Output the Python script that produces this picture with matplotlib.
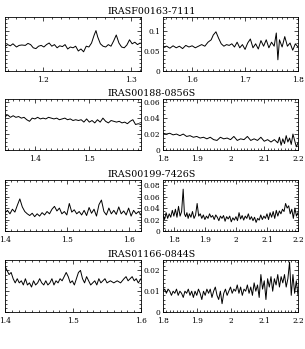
import matplotlib
matplotlib.use("Agg")
import matplotlib.pyplot as plt
from matplotlib.ticker import MultipleLocator, FuncFormatter

# ---- data ----
titles = ["IRASF00163-7111", "IRAS00188-0856S", "IRAS00199-7426S", "IRAS01166-0844S"]

x1l = [1.157, 1.160, 1.163, 1.166, 1.170, 1.173, 1.176, 1.180, 1.183, 1.186, 1.189, 1.192, 1.195,
       1.198, 1.201, 1.204, 1.207, 1.210, 1.213, 1.216, 1.219, 1.222, 1.225, 1.228, 1.231, 1.234,
       1.237, 1.240, 1.243, 1.246, 1.249, 1.252, 1.255, 1.258, 1.260, 1.262, 1.265, 1.268, 1.271,
       1.274, 1.277, 1.280, 1.283, 1.286, 1.289, 1.292, 1.295, 1.298, 1.301, 1.304, 1.307, 1.310]
y1l = [0.062, 0.066, 0.063, 0.068, 0.060, 0.064, 0.065, 0.064, 0.069, 0.066, 0.058, 0.056, 0.062,
       0.064, 0.060, 0.066, 0.070, 0.062, 0.066, 0.058, 0.063, 0.061, 0.066, 0.055, 0.060, 0.058,
       0.062, 0.050, 0.055, 0.048, 0.062, 0.060, 0.070, 0.090, 0.101, 0.085, 0.068, 0.062, 0.060,
       0.066, 0.062, 0.075, 0.090, 0.070, 0.060, 0.058, 0.065, 0.078, 0.068, 0.072, 0.066, 0.070]

x1r = [1.545, 1.552, 1.558, 1.564, 1.570, 1.576, 1.582, 1.588, 1.594, 1.600, 1.606, 1.612, 1.618,
       1.624, 1.630, 1.636, 1.640, 1.645, 1.650, 1.655, 1.660, 1.665, 1.670, 1.675, 1.680, 1.685,
       1.690, 1.695, 1.700, 1.705, 1.710, 1.715, 1.720, 1.725, 1.730, 1.735, 1.740, 1.745, 1.750,
       1.755, 1.759, 1.762, 1.765, 1.770, 1.775, 1.780, 1.785, 1.790, 1.795, 1.800]
y1r = [0.060, 0.062, 0.057, 0.063, 0.058, 0.062, 0.056, 0.064, 0.060, 0.063, 0.058, 0.062, 0.066,
       0.062, 0.072, 0.078, 0.090, 0.098, 0.082, 0.068, 0.062, 0.066, 0.064, 0.068, 0.060, 0.072,
       0.058, 0.066, 0.054, 0.070, 0.080, 0.058, 0.068, 0.055, 0.076, 0.062, 0.078, 0.058, 0.072,
       0.062, 0.095, 0.028, 0.078, 0.060, 0.086, 0.062, 0.070, 0.052, 0.068, 0.060]

x2l = [1.345, 1.350, 1.355, 1.360, 1.365, 1.370, 1.375, 1.380, 1.385, 1.390, 1.395, 1.400, 1.405,
       1.410, 1.415, 1.420, 1.425, 1.430, 1.435, 1.440, 1.445, 1.450, 1.455, 1.460, 1.465, 1.470,
       1.475, 1.480, 1.485, 1.490, 1.495, 1.500, 1.505, 1.510, 1.515, 1.520, 1.525, 1.530, 1.535,
       1.540, 1.545, 1.550, 1.555, 1.560, 1.565, 1.570, 1.575, 1.580, 1.585, 1.590, 1.595]
y2l = [0.042, 0.044, 0.041, 0.043, 0.041, 0.042, 0.040, 0.041, 0.038, 0.036, 0.040, 0.039, 0.041,
       0.039, 0.040, 0.039, 0.041, 0.040, 0.039, 0.040, 0.038, 0.039, 0.040, 0.038, 0.039, 0.037,
       0.038, 0.037, 0.038, 0.035, 0.039, 0.035, 0.037, 0.034, 0.038, 0.035, 0.040, 0.036, 0.034,
       0.037, 0.036, 0.035, 0.036, 0.034, 0.035, 0.033, 0.036, 0.038, 0.032, 0.033, 0.032]

x2r = [1.800, 1.810, 1.820, 1.830, 1.840, 1.850, 1.860, 1.870, 1.880, 1.890, 1.900, 1.910, 1.920,
       1.930, 1.940, 1.950, 1.960, 1.970, 1.980, 1.990, 2.000, 2.010, 2.020, 2.030, 2.040, 2.050,
       2.060, 2.070, 2.080, 2.090, 2.100, 2.110, 2.120, 2.130, 2.140, 2.145, 2.150, 2.155, 2.160,
       2.165, 2.170, 2.175, 2.180, 2.185, 2.190, 2.195, 2.200]
y2r = [0.021, 0.020, 0.021, 0.019, 0.020, 0.018, 0.020, 0.017, 0.018, 0.016, 0.017, 0.015, 0.016,
       0.014, 0.016, 0.013, 0.012, 0.016, 0.014, 0.015, 0.013, 0.017, 0.012, 0.014, 0.013, 0.017,
       0.012, 0.014, 0.012, 0.016, 0.011, 0.013, 0.010, 0.013, 0.009, 0.016, 0.006, 0.014, 0.008,
       0.018, 0.010, 0.015, 0.007, 0.020, 0.012, 0.004, 0.009]

x3l = [1.400, 1.404, 1.408, 1.412, 1.416, 1.420, 1.424, 1.428, 1.432, 1.436, 1.440, 1.444, 1.448,
       1.452, 1.456, 1.460, 1.464, 1.468, 1.472, 1.476, 1.480, 1.484, 1.488, 1.492, 1.496, 1.500,
       1.504, 1.508, 1.512, 1.516, 1.520, 1.524, 1.528, 1.532, 1.536, 1.540, 1.544, 1.548, 1.552,
       1.556, 1.560, 1.564, 1.568, 1.572, 1.576, 1.580, 1.584, 1.588, 1.592, 1.596, 1.600, 1.604,
       1.608, 1.612, 1.616, 1.620]
y3l = [0.032, 0.036, 0.030, 0.038, 0.033, 0.045, 0.056, 0.042, 0.034, 0.030, 0.027, 0.031, 0.025,
       0.030, 0.026, 0.032, 0.028, 0.034, 0.030, 0.038, 0.043, 0.035, 0.040, 0.030, 0.034, 0.028,
       0.048, 0.033, 0.037, 0.030, 0.034, 0.028, 0.036, 0.027, 0.041, 0.031, 0.038, 0.026, 0.046,
       0.054, 0.034, 0.028, 0.040, 0.030, 0.036, 0.029, 0.042, 0.030, 0.035, 0.028, 0.040, 0.026,
       0.036, 0.030, 0.034, 0.028]

x3r = [1.765, 1.770, 1.775, 1.780, 1.785, 1.790, 1.795, 1.800, 1.805, 1.810, 1.815, 1.820, 1.825,
       1.830, 1.834, 1.838, 1.842, 1.846, 1.850, 1.855, 1.860, 1.865, 1.870, 1.875, 1.880, 1.885,
       1.890, 1.895, 1.900, 1.905, 1.910, 1.915, 1.920, 1.925, 1.930, 1.935, 1.940, 1.945, 1.950,
       1.955, 1.960, 1.965, 1.970, 1.975, 1.980, 1.985, 1.990, 1.995, 2.000, 2.005, 2.010, 2.015,
       2.020, 2.025, 2.030, 2.035, 2.040, 2.045, 2.050, 2.055, 2.060, 2.065, 2.070, 2.075, 2.080,
       2.085, 2.090, 2.095, 2.100, 2.105, 2.110, 2.115, 2.120, 2.125, 2.130, 2.135, 2.140, 2.145,
       2.150, 2.155, 2.160, 2.165, 2.170, 2.175, 2.180, 2.185, 2.190, 2.195, 2.200]
y3r = [0.028, 0.020, 0.032, 0.022, 0.030, 0.024, 0.036, 0.026, 0.038, 0.024, 0.043, 0.026, 0.034,
       0.073, 0.030, 0.025, 0.032, 0.022, 0.030, 0.024, 0.034, 0.022, 0.028, 0.048, 0.026, 0.030,
       0.022, 0.028, 0.020, 0.026, 0.022, 0.030, 0.024, 0.027, 0.020, 0.028, 0.024, 0.018, 0.026,
       0.022, 0.027, 0.017, 0.025, 0.021, 0.026, 0.016, 0.023, 0.019, 0.025, 0.018, 0.032, 0.021,
       0.027, 0.019, 0.026, 0.022, 0.030, 0.020, 0.025, 0.018, 0.024, 0.015, 0.022, 0.019, 0.028,
       0.020, 0.026, 0.022, 0.030, 0.020, 0.032, 0.024, 0.034, 0.022, 0.036, 0.026, 0.035, 0.030,
       0.038, 0.034, 0.048, 0.040, 0.044, 0.030, 0.038, 0.022, 0.040, 0.026, 0.032]

x4l = [1.400, 1.403, 1.406, 1.409, 1.412, 1.415, 1.418, 1.421, 1.424, 1.427, 1.430, 1.433, 1.436,
       1.439, 1.442, 1.445, 1.448, 1.451, 1.454, 1.457, 1.460, 1.463, 1.466, 1.469, 1.472, 1.475,
       1.478, 1.481, 1.484, 1.487, 1.490, 1.493, 1.496, 1.499, 1.502, 1.505, 1.508, 1.511, 1.514,
       1.517, 1.520, 1.523, 1.526, 1.529, 1.532, 1.535, 1.538, 1.541, 1.544, 1.547, 1.550, 1.555,
       1.560, 1.565, 1.570, 1.575, 1.578, 1.581, 1.584, 1.587, 1.590, 1.593, 1.596, 1.600]
y4l = [0.022, 0.020, 0.018, 0.019, 0.016, 0.014, 0.016, 0.014, 0.015, 0.013, 0.016, 0.013, 0.014,
       0.012, 0.015, 0.013, 0.014, 0.016, 0.014, 0.013, 0.015, 0.013, 0.014, 0.016, 0.013, 0.015,
       0.014, 0.016, 0.015, 0.017, 0.019, 0.017, 0.014, 0.015, 0.013, 0.016, 0.019, 0.020, 0.016,
       0.014, 0.017, 0.015, 0.013, 0.014, 0.015, 0.013, 0.016, 0.014, 0.015, 0.016, 0.014, 0.015,
       0.014, 0.015, 0.014, 0.016, 0.017, 0.015, 0.016, 0.017, 0.015, 0.016, 0.014, 0.016]

x4r = [1.800, 1.805, 1.810, 1.815, 1.820, 1.825, 1.830, 1.835, 1.840, 1.845, 1.850, 1.855, 1.860,
       1.865, 1.870, 1.875, 1.880, 1.885, 1.890, 1.895, 1.900, 1.905, 1.910, 1.915, 1.920, 1.925,
       1.930, 1.935, 1.940, 1.945, 1.950, 1.955, 1.960, 1.965, 1.970, 1.975, 1.980, 1.985, 1.990,
       1.995, 2.000, 2.005, 2.010, 2.015, 2.020, 2.025, 2.030, 2.035, 2.040, 2.045, 2.050, 2.055,
       2.060, 2.065, 2.070, 2.075, 2.080, 2.085, 2.090, 2.095, 2.100, 2.105, 2.110, 2.115, 2.120,
       2.125, 2.130, 2.135, 2.140, 2.145, 2.150, 2.155, 2.160, 2.165, 2.170, 2.175, 2.180, 2.185,
       2.190, 2.195, 2.200]
y4r = [0.010, 0.011, 0.009, 0.011, 0.010, 0.008, 0.010, 0.009, 0.011, 0.008, 0.010, 0.009, 0.007,
       0.010, 0.009, 0.011, 0.008, 0.010, 0.007, 0.010, 0.008, 0.011, 0.009, 0.006, 0.010, 0.008,
       0.011, 0.009, 0.011, 0.007, 0.010, 0.012, 0.008, 0.006, 0.010, 0.004, 0.009, 0.011, 0.008,
       0.010, 0.012, 0.009, 0.011, 0.010, 0.013, 0.009, 0.012, 0.008, 0.011, 0.010, 0.013, 0.009,
       0.012, 0.008, 0.014, 0.010, 0.013, 0.007, 0.018, 0.011, 0.015, 0.006, 0.016, 0.012, 0.017,
       0.010, 0.016, 0.013, 0.018, 0.012, 0.017, 0.014, 0.018, 0.012, 0.016, 0.024, 0.008, 0.018,
       0.009, 0.015, 0.008]

xlims = [((1.157, 1.311), (1.545, 1.8)),
         ((1.345, 1.595), (1.8, 2.2)),
         ((1.4, 1.62), (1.765, 2.2)),
         ((1.4, 1.6), (1.8, 2.2))]
ylims = [0.135, 0.064, 0.089, 0.025]
ymajor = [0.05, 0.02, 0.02, 0.01]
yminor = [0.01, 0.005, 0.005, 0.002]

panels = [((x1l, y1l), (x1r, y1r)),
          ((x2l, y2l), (x2r, y2r)),
          ((x3l, y3l), (x3r, y3r)),
          ((x4l, y4l), (x4r, y4r))]

# ---- layout in pixels ----
W, H = 305, 349
fig = plt.figure(figsize=(W / 100, H / 100), dpi=100)
plt.rcParams['font.family'] = 'DejaVu Serif'

row_top = [17, 99, 180, 260]
row_bot = [71, 150, 231, 312]
cols = [(5, 141), (163, 298)]

fmt = FuncFormatter(lambda v, p: ('%g' % round(v, 4)))

for r in range(4):
    for c in range(2):
        x0, x1 = cols[c]
        ax = fig.add_axes([x0 / W, 1 - row_bot[r] / H, (x1 - x0) / W, (row_bot[r] - row_top[r]) / H])
        xs, ys = panels[r][c]
        ax.plot(xs, ys, color='black', lw=0.7)
        ax.set_xlim(*xlims[r][c])
        ax.set_ylim(0, ylims[r])
        ax.xaxis.set_major_locator(MultipleLocator(0.1))
        ax.xaxis.set_minor_locator(MultipleLocator(0.01))
        ax.yaxis.set_major_locator(MultipleLocator(ymajor[r]))
        ax.yaxis.set_minor_locator(MultipleLocator(yminor[r]))
        ax.xaxis.set_major_formatter(fmt)
        ax.yaxis.set_major_formatter(fmt)
        ax.tick_params(which='both', direction='in', top=True, right=True,
                       labelsize=5.3, width=0.5)
        ax.tick_params(axis='x', pad=3.5)
        ax.tick_params(axis='y', pad=2)
        ax.tick_params(which='major', length=3)
        ax.tick_params(which='minor', length=1.5)
        if c == 0:
            ax.tick_params(labelleft=False)
        for s in ax.spines.values():
            s.set_linewidth(0.6)
    fig.text(152 / W, 1 - (row_top[r] - 1) / H, titles[r], ha='center', va='bottom', fontsize=6.8)

fig.savefig("out.png", dpi=100)
